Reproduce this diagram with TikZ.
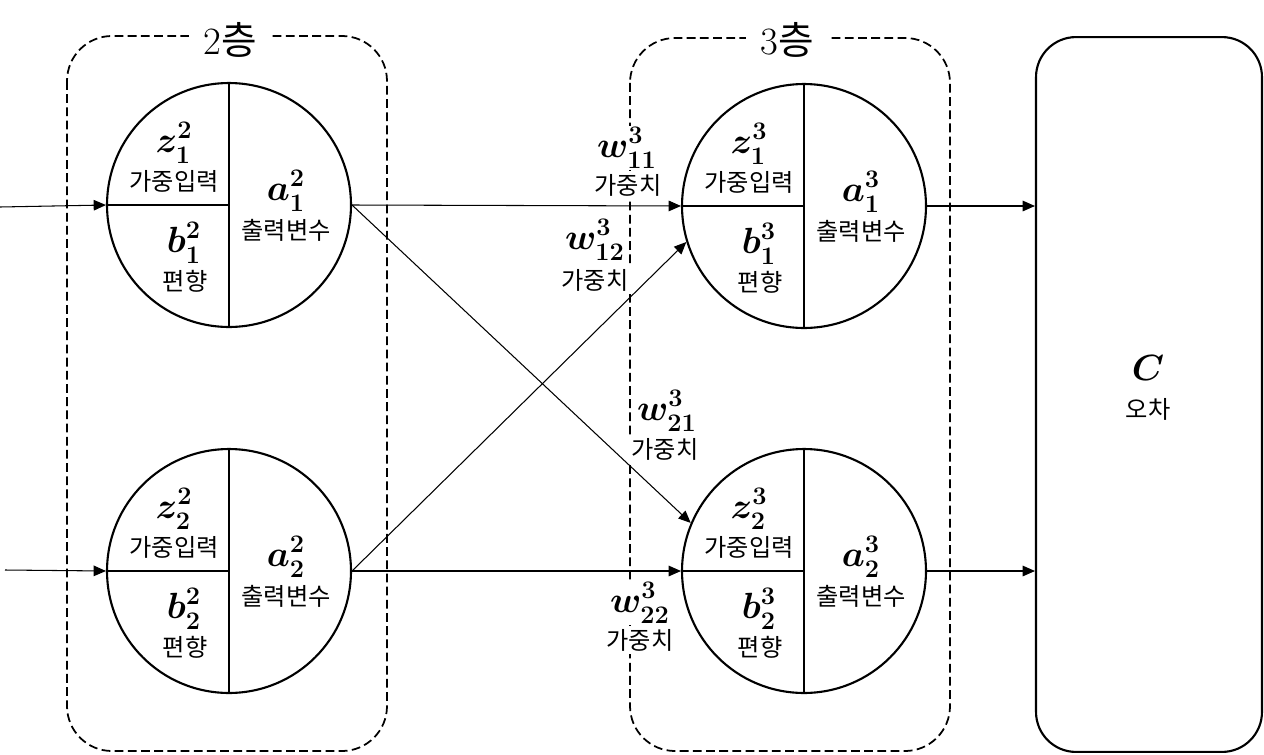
\documentclass[tikz,border=0pt]{standalone}
\usepackage{fontspec}
\newfontfamily\kr{Noto Sans CJK KR}
\usetikzlibrary{arrows.meta}
\tikzset{
  % neurons
  neuron/.style     = {circle, draw, line width=1.2pt, fill=white,
                       minimum size=4.88cm, inner sep=0pt},
  divline/.style    = {line width=0.7pt},
  % texts
  sym/.style        = {font=\fontsize{20.74}{23}\selectfont\boldmath, inner sep=0pt},
  krlab/.style      = {font=\kr\fontsize{13.8}{15}\selectfont, inner sep=0pt},
  wsym/.style       = {sym, fill=white, inner sep=1pt},
  wlab/.style       = {krlab, fill=white, inner sep=2pt},
  % layers and cost
  layerbox/.style   = {line width=1pt, dash pattern=on 5pt off 2.5pt,
                       rounded corners=0.9cm},
  layertitle/.style = {fill=white, inner xsep=8pt, inner ysep=0pt,
                       font=\fontsize{22}{24}\selectfont},
  costbox/.style    = {draw, line width=1.2pt, rounded corners=0.8cm,
                       minimum width=4.52cm, minimum height=14.3cm},
  % connectors
  conn/.style       = {-{Triangle[length=7pt,width=6pt]}, line width=0.6pt},
}
\begin{document}
\begin{tikzpicture}[x=0.02cm,y=-0.02cm]
  \useasboundingbox (0,0) rectangle (1264,754);
  % Layer boxes
  \draw[layerbox] (67,36) rectangle (387,751);
  \draw[layerbox] (630,38) rectangle (950,751);
  \node[layertitle] (t2) at (230,40) {2{\kr 층}};
  \node[layertitle] (t3) at (787,40) {3{\kr 층}};
  % Cost
  \node[costbox] (cbox) at (1149,394.5) {};
  \node[sym] (cc) at (1148,368) {$C$};
  \node[krlab] (cct) at (1148,409) {오차};
  % Neurons
  \foreach \lay/\k/\x/\y in {2/1/229/205, 2/2/229/571, 3/1/804/206, 3/2/804/571}{
    \node[neuron] (n\lay\k) at (\x,\y) {};
    \draw[divline] (n\lay\k.north) -- (n\lay\k.south);
    \draw[divline] (n\lay\k.west) -- (n\lay\k.center);
    \node[sym]   (z\lay\k)  at (\x-55,\y-62) {$z^{\lay}_{\k}$};
    \node[krlab] (zt\lay\k) at (\x-55,\y-24) {가중입력};
    \node[sym]   (b\lay\k)  at (\x-45,\y+38) {$b^{\lay}_{\k}$};
    \node[krlab] (bt\lay\k) at (\x-44,\y+76) {편향};
    \node[sym]   (a\lay\k)  at (\x+57,\y-14) {$a^{\lay}_{\k}$};
    \node[krlab] (at\lay\k) at (\x+57,\y+25) {출력변수};
  }
  % Inputs
  \coordinate (in1) at (0,207);
  \coordinate (in2) at (5,570);
  \draw[conn] (in1) -- (n21.west);
  \draw[conn] (in2) -- (n22.west);
  % Weights
  \draw[conn] (n21.east) -- (n31.west);
  \draw[conn] (n21.east) -- (n32.157);
  \draw[conn] (n22.east) -- (n31.197);
  \draw[conn] (n22.east) -- (n32.west);
  % Outputs
  \draw[conn] (n31.east) -- (n31.east -| cbox.west);
  \draw[conn] (n32.east) -- (n32.east -| cbox.west);
  % Weight labels
  \node[wlab] (w11t) at (628,185) {가중치};
  \node[wsym] (w11)  at (627,148) {$w^3_{11}$};
  \node[wlab] (w12t) at (595,280) {가중치};
  \node[wsym] (w12)  at (595,240) {$w^3_{12}$};
  \node[wlab] (w21t) at (665,449) {가중치};
  \node[wsym] (w21)  at (667,411) {$w^3_{21}$};
  \node[wlab] (w22t) at (640,640) {가중치};
  \node[wsym] (w22)  at (640,603) {$w^3_{22}$};
\end{tikzpicture}
\end{document}
